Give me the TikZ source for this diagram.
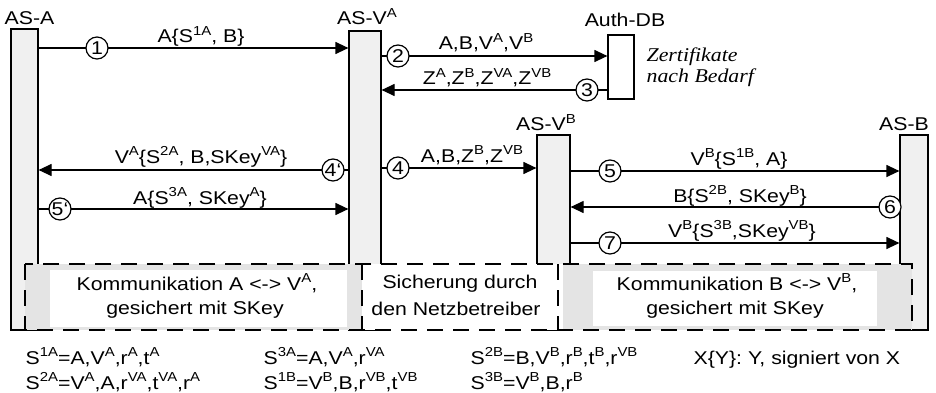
\documentclass[tikz,border=0pt]{standalone}
\usepackage{fontspec}
\setmainfont[FakeStretch=1.15]{Liberation Sans}
\newfontfamily\zserif[FakeStretch=1.12]{Liberation Serif}
\usetikzlibrary{arrows.meta}
\definecolor{boxgray}{HTML}{F0F0F0}
\definecolor{regiongray}{HTML}{E4E4E4}
\newcommand\su[1]{\raisebox{0.42em}{\fontsize{13}{13}\selectfont #1}}
\newcommand\cn[1]{\makebox[0pt]{#1}}
\begin{document}
\begin{tikzpicture}[x=1pt,y=-1pt,line width=1.2pt,
  every node/.style={font=\fontsize{18.5}{23}\selectfont,inner sep=0pt},
  lifebox/.style={draw,fill=boxgray},
  arr/.style={-{Triangle[length=13pt,width=12pt]}},
  num/.style={circle,draw,fill=white,minimum size=22pt,inner sep=0pt},
  lbl/.style={anchor=base},
  ltxt/.style={anchor=base west},
  dsh/.style={dash pattern=on 16pt off 10pt}]
\useasboundingbox (0,0) rectangle (936,393);
% lifelines
\node[lifebox,minimum width=27pt,minimum height=301pt] (A) at (24.5,179.5) {};
\node[lifebox,minimum width=32pt,minimum height=299pt] (VA) at (365,180.5) {};
\node[draw,fill=white,minimum width=26pt,minimum height=64pt] (DB) at (621,67) {};
\node[lifebox,minimum width=33pt,minimum height=195pt] (VB) at (553.5,232.5) {};
\node[lifebox,minimum width=28pt,minimum height=195pt] (B) at (914,232.5) {};
% lifeline labels
\node[lbl] (lA) at (29.5,25) {AS-A};
\node[lbl] (lVA) at (367,25) {AS-V\su{A}};
\node[lbl] (lDB) at (625,27) {Auth-DB};
\node[lbl] (lVB) at (546,131) {AS-V\su{B}};
\node[lbl] (lB) at (904,131) {AS-B};
\node[ltxt,font=\zserif\itshape\fontsize{19.5}{23}\selectfont] (z1) at (646,62) {Zertifikate};
\node[ltxt,font=\zserif\itshape\fontsize{19.5}{23}\selectfont] (z2) at (646,83) {nach Bedarf};
% bottom region
\fill[regiongray] (25,264) rectangle (362,330);
\fill[regiongray] (563,264) rectangle (912,330);
\fill[white] (362,264) rectangle (563,330);
\fill[white] (50,270) rectangle (347,327);
\fill[white] (593,271) rectangle (877,326);
\draw[dsh] (25,264) rectangle (912,330);
\draw[dsh] (362,264) -- (362,330);
\draw[dsh] (558,264) -- (558,330);
\node[lbl] (k1) at (197,290) {Kommunikation A <-> V\su{A},};
\node[lbl] (k2) at (195,314) {gesichert mit SKey};
\node[lbl] (s1) at (460,288) {Sicherung durch};
\node[lbl] (s2) at (456,315) {den Netzbetreiber};
\node[lbl] (k3) at (737,290) {Kommunikation B <-> V\su{B},};
\node[lbl] (k4) at (735,314) {gesichert mit SKey};
% y levels
\coordinate (y1) at (0,48);
\coordinate (y2) at (0,56);
\coordinate (y3) at (0,90);
\coordinate (y4p) at (0,170);
\coordinate (y5p) at (0,209);
\coordinate (y4) at (0,168);
\coordinate (y5) at (0,171);
\coordinate (y6) at (0,207);
\coordinate (y7) at (0,243);
% messages
\draw[arr] (A.east |- y1) -- (VA.west |- y1);
\draw[arr] (VA.east |- y2) -- (DB.west |- y2);
\draw[arr] (DB.west |- y3) -- (VA.east |- y3);
\draw[arr] (VA.west |- y4p) -- (A.east |- y4p);
\draw[arr] (A.east |- y5p) -- (VA.west |- y5p);
\draw[arr] (VA.east |- y4) -- (VB.west |- y4);
\draw[arr] (VB.east |- y5) -- (B.west |- y5);
\draw[arr] (B.west |- y6) -- (VB.east |- y6);
\draw[arr] (VB.east |- y7) -- (B.west |- y7);
% step numbers
\node[num] (n1) at (97,48) {\cn{1}};
\node[num] (n2) at (398,56) {\cn{2}};
\node[num] (n3) at (587,90) {\cn{3}};
\node[num] (n4p) at (333,170) {\cn{4`}};
\node[num] (n5p) at (60,209) {\cn{5`}};
\node[num] (n4) at (398,168) {\cn{4}};
\node[num] (n5) at (610,171) {\cn{5}};
\node[num] (n6) at (890,207) {\cn{6}};
\node[num] (n7) at (610,243) {\cn{7}};
% message labels
\node[lbl] (m1) at (201,43) {A\{S\su{1A}, B\}};
\node[lbl] (m2) at (486,50) {A,B,V\su{A},V\su{B}};
\node[lbl] (m3) at (487,85) {Z\su{A},Z\su{B},Z\su{VA},Z\su{VB}};
\node[lbl] (m4p) at (201,163) {V\su{A}\{S\su{2A}, B,SKey\su{VA}\}};
\node[lbl] (m5p) at (200,204) {A\{S\su{3A}, SKey\su{A}\}};
\node[lbl] (m4) at (472,162) {A,B,Z\su{B},Z\su{VB}};
\node[lbl] (m5) at (739,165) {V\su{B}\{S\su{1B}, A\}};
\node[lbl] (m6) at (740,202) {B\{S\su{2B}, SKey\su{B}\}};
\node[lbl] (m7) at (742,237) {V\su{B}\{S\su{3B},SKey\su{VB}\}};
% definitions
\node[ltxt] (d1) at (25,364) {S\su{1A}=A,V\su{A},r\su{A},t\su{A}};
\node[ltxt] (d2) at (25,389) {S\su{2A}=V\su{A},A,r\su{VA},t\su{VA},r\su{A}};
\node[ltxt] (d3) at (263,364) {S\su{3A}=A,V\su{A},r\su{VA}};
\node[ltxt] (d4) at (263,389) {S\su{1B}=V\su{B},B,r\su{VB},t\su{VB}};
\node[ltxt] (d5) at (470,364) {S\su{2B}=B,V\su{B},r\su{B},t\su{B},r\su{VB}};
\node[ltxt] (d6) at (470,389) {S\su{3B}=V\su{B},B,r\su{B}};
\node[ltxt] (d7) at (693,364) {X\{Y\}: Y, signiert von X};
\end{tikzpicture}
\end{document}
